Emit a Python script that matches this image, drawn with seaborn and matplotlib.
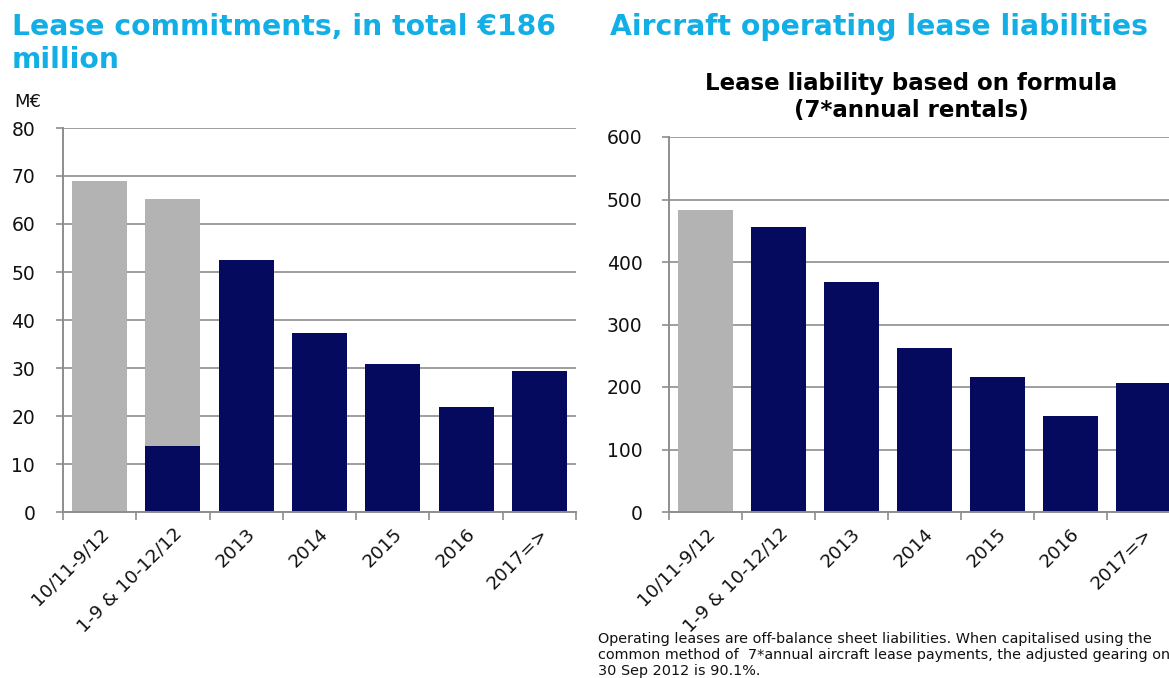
import matplotlib
matplotlib.use("Agg")
import matplotlib.pyplot as plt
import seaborn as sns
import pandas as pd
import numpy as np
from matplotlib.ticker import FixedLocator

# ---- data ----
categories = ["10/11-9/12", "1-9 & 10-12/12", "2013", "2014", "2015", "2016", "2017=>"]
left_navy = [0.0, 13.8, 52.5, 37.3, 30.8, 21.9, 29.4]
left_gray = [69.0, 51.4, 0.0, 0.0, 0.0, 0.0, 0.0]
right_navy = [0, 456, 368, 262, 216, 154, 206]
right_gray = [483, 0, 0, 0, 0, 0, 0]
left_yticks = [0, 10, 20, 30, 40, 50, 60, 70, 80]
right_yticks = [0, 100, 200, 300, 400, 500, 600]

NAVY = "#050A5E"
GRAY = "#B3B3B3"
CYAN = "#12AEE6"
AXIS = "#8E8E8E"

sns.set_theme(style="white")
plt.rcParams["font.family"] = ["DejaVu Sans"]

W, H = 1169, 678
fig = plt.figure(figsize=(W / 100, H / 100), dpi=100)

ax1 = fig.add_axes([63 / W, 1 - 512 / H, 513 / W, 384 / H])
ax2 = fig.add_axes([669 / W, 1 - 512 / H, 511 / W, 375 / H])


def draw(ax, navy, gray, yticks, pad):
    df = pd.DataFrame({"cat": categories,
                       "total": np.array(navy) + np.array(gray),
                       "navy": navy})
    sns.barplot(data=df, x="cat", y="total", order=categories, color=GRAY,
                saturation=1, width=0.75, ax=ax, linewidth=0)
    sns.barplot(data=df, x="cat", y="navy", order=categories, color=NAVY,
                saturation=1, width=0.75, ax=ax, linewidth=0)
    ax.set_xlim(-0.5, len(categories) - 0.5)
    ax.set_ylim(yticks[0], yticks[-1])
    ax.set_yticks(yticks)
    ax.set_xlabel("")
    ax.set_ylabel("")
    ax.set_axisbelow(True)
    ax.yaxis.grid(True, color=AXIS, lw=1.2)
    ax.xaxis.grid(False)
    for s in ["top", "right"]:
        ax.spines[s].set_visible(False)
    for s in ["left", "bottom"]:
        ax.spines[s].set_color(AXIS)
        ax.spines[s].set_linewidth(1.4)
    ax.tick_params(axis="y", which="major", direction="out", length=5,
                   width=1.2, color=AXIS, pad=pad, labelsize=13.5,
                   labelcolor="#111111", left=True)
    ax.xaxis.set_minor_locator(FixedLocator(np.arange(-0.5, len(categories), 1)))
    ax.tick_params(axis="x", which="minor", direction="out", length=6,
                   width=1.2, color=AXIS, bottom=True)
    ax.tick_params(axis="x", which="major", length=0, pad=9, labelsize=13.3,
                   labelcolor="#111111")
    for lab in ax.get_xticklabels():
        lab.set_rotation(45)
        lab.set_ha("right")
        lab.set_va("top")
        lab.set_rotation_mode("anchor")


draw(ax1, left_navy, left_gray, left_yticks, 15)
draw(ax2, right_navy, right_gray, right_yticks, 14)

fig.text(12 / W, 1 - 13 / H, "Lease commitments, in total €186\nmillion",
         color=CYAN, fontsize=20.3, fontweight="bold", va="top", ha="left",
         linespacing=1.25)
fig.text(610 / W, 1 - 13 / H, "Aircraft operating lease liabilities",
         color=CYAN, fontsize=20.3, fontweight="bold", va="top", ha="left")
fig.text(911 / W, 1 - 72 / H, "Lease liability based on formula\n(7*annual rentals)",
         color="black", fontsize=16.5, fontweight="bold", va="top", ha="center",
         linespacing=1.22)
fig.text(14 / W, 1 - 93 / H, "M€", color="#111111", fontsize=13,
         va="top", ha="left")
fig.text(598 / W, 1 - 632 / H,
         "Operating leases are off-balance sheet liabilities. When capitalised using the\n"
         "common method of  7*annual aircraft lease payments, the adjusted gearing on\n"
         "30 Sep 2012 is 90.1%.",
         color="#111111", fontsize=10.4, va="top", ha="left", linespacing=1.2)

fig.savefig("out.png", dpi=100)
